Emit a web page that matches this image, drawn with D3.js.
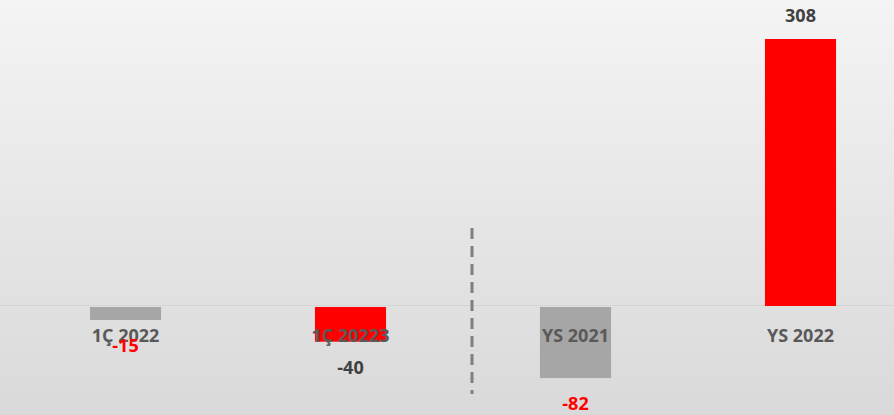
<!DOCTYPE html>
<html><head><meta charset="utf-8">
<script src="https://cdn.jsdelivr.net/npm/d3@7"></script>
<style>html,body{margin:0;padding:0;overflow:hidden;background:#fff}</style>
</head><body>
<script>
const categories = ["1Ç 2022", "1Ç 20223", "YS 2021", "YS 2022"];
const values = [-15, -40, -82, 308];
const barColors = ["#a6a6a6", "#ff0000", "#a6a6a6", "#ff0000"];
const labelColors = ["#ff0000", "#404040", "#ff0000", "#404040"];

const W = 894, H = 415;
const svg = d3.select("body").append("svg").attr("width", W).attr("height", H);
const defs = svg.append("defs");
const grad = defs.append("linearGradient").attr("id", "bg").attr("x1", 0).attr("y1", 0).attr("x2", 0).attr("y2", 1);
grad.append("stop").attr("offset", "0%").attr("stop-color", "#f4f4f4");
grad.append("stop").attr("offset", "100%").attr("stop-color", "#d9d9d9");
svg.append("rect").attr("width", W).attr("height", H).attr("fill", "url(#bg)");

const x = d3.scaleBand().domain(categories).range([13, 913]).paddingInner(0.684).paddingOuter(0.342);
const y = d3.scaleLinear().domain([0, 308]).range([306, 39]);

// baseline
svg.append("line").attr("x1", 0).attr("x2", W).attr("y1", y(0) - 0.5).attr("y2", y(0) - 0.5)
  .attr("stroke", "#d4d4d4").attr("stroke-width", 1);

svg.selectAll("rect.bar").data(values).enter().append("rect").attr("class", "bar")
  .attr("x", (d, i) => x(categories[i]))
  .attr("width", x.bandwidth())
  .attr("y", d => d >= 0 ? y(d) : y(0) + 1)
  .attr("height", d => Math.abs(y(d) - y(0)))
  .attr("fill", (d, i) => barColors[i]);

// dashed separator
svg.append("line").attr("x1", 472).attr("x2", 472).attr("y1", 228).attr("y2", 394)
  .attr("stroke", "#7f7f7f").attr("stroke-width", 3).attr("stroke-dasharray", "11,7");

const font = "'Open Sans', sans-serif";
svg.selectAll("text.cat").data(categories).enter().append("text").attr("class", "cat")
  .attr("x", d => x(d) + x.bandwidth() / 2).attr("y", 335)
  .attr("text-anchor", "middle").attr("dominant-baseline", "central")
  .attr("font-family", font).attr("font-weight", 700).attr("font-size", 18)
  .attr("fill", "#595959").text(d => d);

svg.selectAll("text.val").data(values).enter().append("text").attr("class", "val")
  .attr("x", (d, i) => x(categories[i]) + x.bandwidth() / 2)
  .attr("y", d => d >= 0 ? y(d) - 24 : y(d) + 26)
  .attr("text-anchor", "middle").attr("dominant-baseline", "central")
  .attr("font-family", font).attr("font-weight", 700).attr("font-size", 18)
  .attr("fill", (d, i) => labelColors[i]).text(d => d);
</script>
</body></html>
